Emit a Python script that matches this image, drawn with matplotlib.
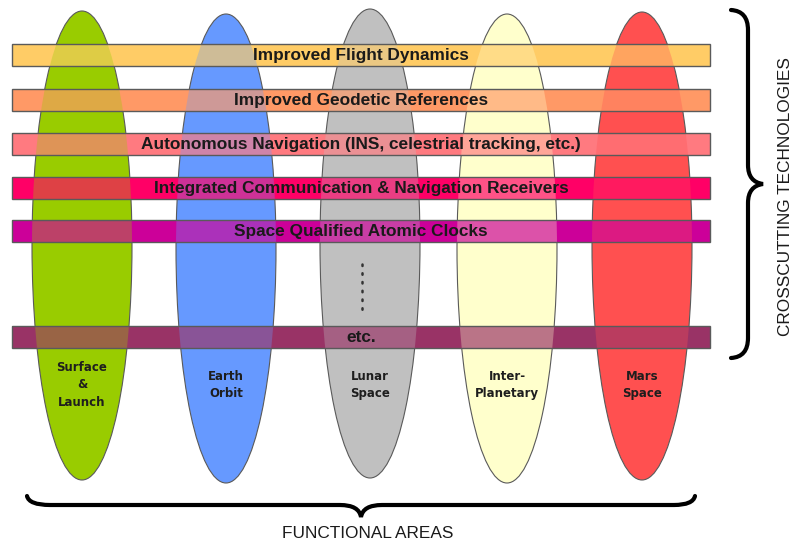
import matplotlib
matplotlib.use("Agg")
import matplotlib.pyplot as plt
from matplotlib.patches import Ellipse, Rectangle, PathPatch
from matplotlib.path import Path
from matplotlib.colors import to_rgb

# Functional areas (vertical ellipses)
areas = ["Surface\n&\nLaunch", "Earth\nOrbit", "Lunar\nSpace", "Inter-\nPlanetary", "Mars\nSpace"]
area_colors = ["#99CC00", "#6699FF", "#C0C0C0", "#FFFFCC", "#FF5050"]

# Crosscutting technologies (horizontal bands)
technologies = [
    "Improved Flight Dynamics",
    "Improved Geodetic References",
    "Autonomous Navigation (INS, celestrial tracking, etc.)",
    "Integrated Communication & Navigation Receivers",
    "Space Qualified Atomic Clocks",
    "etc.",
]
tech_colors = ["#FFCC66", "#FF9966", "#FF7A80", "#FF0066", "#CC0099", "#993366"]

# layout (pixel coordinates, y downwards)
W, H = 795, 547
ell_cx = [82, 226, 370, 507, 642]
ell_top = [11, 14, 9, 14, 12]
ell_bot = [480, 483, 478, 483, 480]
ell_w = 100
bar_x0, bar_x1 = 12, 710
bar_top = [44, 89, 133, 177, 220, 326]
bar_h = 22
label_y = 385

fig = plt.figure(figsize=(W / 100, H / 100), dpi=100)
ax = fig.add_axes([0, 0, 1, 1])
ax.set_xlim(0, W)
ax.set_ylim(H, 0)
ax.axis("off")

ellipses = []
for cx, t, b, col in zip(ell_cx, ell_top, ell_bot, area_colors):
    e = Ellipse((cx, (t + b) / 2), ell_w, b - t, facecolor=col,
                edgecolor="#5a5a5a", linewidth=0.8, zorder=1)
    ax.add_patch(e)
    ellipses.append(e)

def mix(c_top, c_bottom, a=0.68):
    r1, r2 = to_rgb(c_top), to_rgb(c_bottom)
    return tuple(a * x + (1 - a) * y for x, y in zip(r1, r2))

for name, col, y in zip(technologies, tech_colors, bar_top):
    ax.add_patch(Rectangle((bar_x0, y), bar_x1 - bar_x0, bar_h,
                           facecolor=col, edgecolor="none", zorder=2))
    # band seen through each ellipse
    for e, ecol in zip(ellipses, area_colors):
        r = Rectangle((bar_x0, y), bar_x1 - bar_x0, bar_h,
                      facecolor=mix(col, ecol), edgecolor="none", zorder=3)
        ax.add_patch(r)
        r.set_clip_path(e)
    ax.add_patch(Rectangle((bar_x0, y), bar_x1 - bar_x0, bar_h,
                           facecolor="none", edgecolor="#5a5a5a",
                           linewidth=1.0, zorder=4))
    ax.text((bar_x0 + bar_x1) / 2, y + bar_h / 2 + 0.5, name,
            ha="center", va="center", fontsize=12.4, fontweight="bold",
            family="Liberation Sans", color="#1a1a1a", zorder=5)

for cx, name in zip(ell_cx, areas):
    ax.text(cx, label_y, name, ha="center", va="center", fontsize=8.5,
            fontweight="bold", family="DejaVu Sans", color="#1e1e1e",
            linespacing=1.45, zorder=5)

# vertical dotted line inside the lunar ellipse
ax.plot([362, 362], [264, 310], linestyle=(0, (0.6, 2.9)), color="#333333",
        linewidth=1.8, dash_capstyle="round", zorder=5)

def brace_path(verts_codes):
    verts = [v for v, _ in verts_codes]
    codes = [c for _, c in verts_codes]
    return Path(verts, codes)

M, L, C = Path.MOVETO, Path.LINETO, Path.CURVE3
# right-hand brace
vb = brace_path([
    ((731, 10), M), ((748, 11), C), ((748, 30), C),
    ((748, 165), L), ((748, 182), C), ((763, 184), C),
    ((748, 186), C), ((748, 203), C),
    ((748, 338), L), ((748, 357), C), ((731, 358), C),
])
ax.add_patch(PathPatch(vb, facecolor="none", edgecolor="black",
                       linewidth=3.0, capstyle="round", zorder=5))
# bottom brace
hb = brace_path([
    ((27, 496), M), ((29, 505), C), ((50, 505), C),
    ((340, 505), L), ((359, 505), C), ((361, 517), C),
    ((363, 505), C), ((382, 505), C),
    ((674, 505), L), ((693, 505), C), ((695, 496), C),
])
ax.add_patch(PathPatch(hb, facecolor="none", edgecolor="black",
                       linewidth=3.0, capstyle="round", zorder=5))

ax.text(368, 533, "FUNCTIONAL AREAS", ha="center", va="center",
        fontsize=12.4, family="Liberation Sans", color="#1a1a1a")
ax.text(785, 197, "CROSSCUTTING TECHNOLOGIES", ha="center", va="center",
        rotation=90, fontsize=12.4, family="Liberation Sans", color="#1a1a1a")

fig.savefig("out.png", dpi=100)
